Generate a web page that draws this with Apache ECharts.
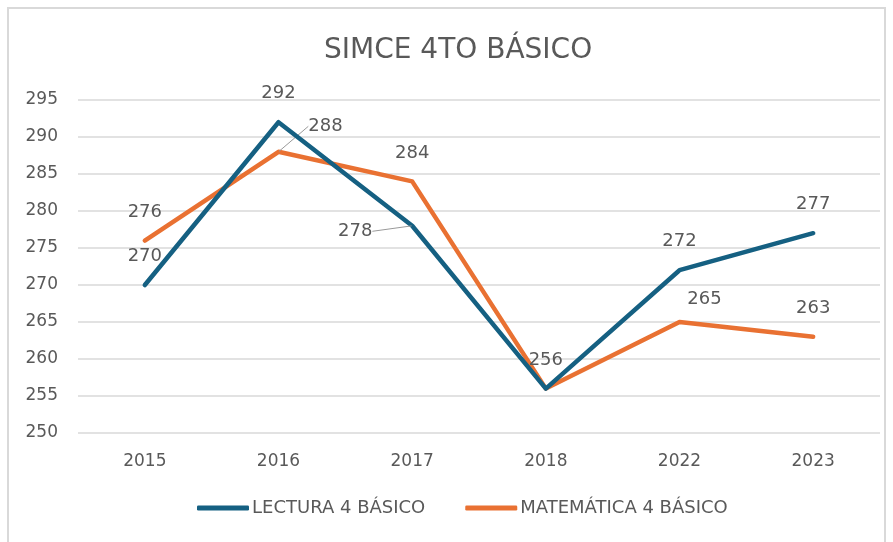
<!DOCTYPE html>
<html>
<head>
<meta charset="utf-8">
<script src="https://cdn.jsdelivr.net/npm/echarts@6/dist/echarts.min.js"></script>
<style>
  html, body { margin: 0; padding: 0; background: #fff; }
  #frame { position: absolute; left: 7px; top: 7px; width: 879px; height: 545px; border: 2px solid #d9d9d9; box-sizing: border-box; }
  #main { position: absolute; left: 0; top: 0; width: 893px; height: 542px; }
</style>
</head>
<body>
<div id="frame"></div>
<div id="main"></div>
<script>
// datos del gráfico
const years = ['2015', '2016', '2017', '2018', '2022', '2023'];
const lectura = [270, 292, 278, 256, 272, 277];
const matematica = [276, 288, 284, 256, 265, 263];
const seriesNames = ['LECTURA 4 BÁSICO', 'MATEMÁTICA 4 BÁSICO'];

// desplazamiento de etiquetas que Excel movió a mano (line = con guía)
const labelMoves = {
  '0-2': { dx: -57, dy: 34, line: true },
  '1-1': { dx: 47, dy: 3, line: true },
  '1-4': { dx: 25, dy: 6, line: false }
};

const font = 'DejaVu Sans, Liberation Sans, sans-serif';
const txt = '#595959';

const myChart = echarts.init(document.getElementById('main'));

const makeSeries = (name, values, color, idx) => ({
  name: name,
  type: 'line',
  data: values.map((v, i) => {
    const m = labelMoves[idx + '-' + i];
    return {
      value: v,
      // el 256 de matemática queda debajo del de lectura
      label: { show: !(idx === 1 && i === 3) },
      labelLine: { show: !!(m && m.line) }
    };
  }),
  symbol: 'circle',
  symbolSize: 1,
  showSymbol: true,
  z: idx === 0 ? 3 : 2,
  lineStyle: { color: color, width: 4.5, cap: 'round', join: 'round' },
  itemStyle: { color: color },
  label: {
    show: true, position: 'top', distance: 19,
    color: txt, fontSize: 18, fontFamily: font
  },
  labelLine: { show: false, lineStyle: { color: '#999999', width: 1 } },
  labelLayout: function (p) {
    const m = labelMoves[idx + '-' + p.dataIndex];
    return m ? { dx: m.dx, dy: m.dy } : {};
  }
});

const option = {
  animation: false,
  backgroundColor: 'transparent',
  title: {
    text: 'SIMCE 4TO BÁSICO',
    left: 319, top: 32,
    textStyle: { color: txt, fontSize: 28, fontWeight: 'normal', fontFamily: font }
  },
  legend: {
    bottom: 20,
    left: 192,
    icon: 'roundRect',
    itemWidth: 52, itemHeight: 5, itemGap: 40,
    textStyle: { color: txt, fontSize: 18, fontFamily: font, padding: [0, 0, 0, -2] },
    data: seriesNames
  },
  grid: { left: 78, right: 13, top: 100, bottom: 109 },
  xAxis: {
    type: 'category',
    data: years,
    boundaryGap: true,
    axisLine: { show: false },
    axisTick: { show: false },
    axisLabel: { color: txt, fontSize: 17, fontFamily: font, margin: 20 }
  },
  yAxis: {
    type: 'value',
    min: 250, max: 295, interval: 5,
    axisLine: { show: false },
    axisTick: { show: false },
    splitLine: { lineStyle: { color: '#d9d9d9', width: 1.5 } },
    axisLabel: { color: txt, fontSize: 17, fontFamily: font, margin: 20 }
  },
  series: [
    makeSeries(seriesNames[0], lectura, '#156082', 0),
    makeSeries(seriesNames[1], matematica, '#e97132', 1)
  ]
};

myChart.setOption(option);
</script>
</body>
</html>
